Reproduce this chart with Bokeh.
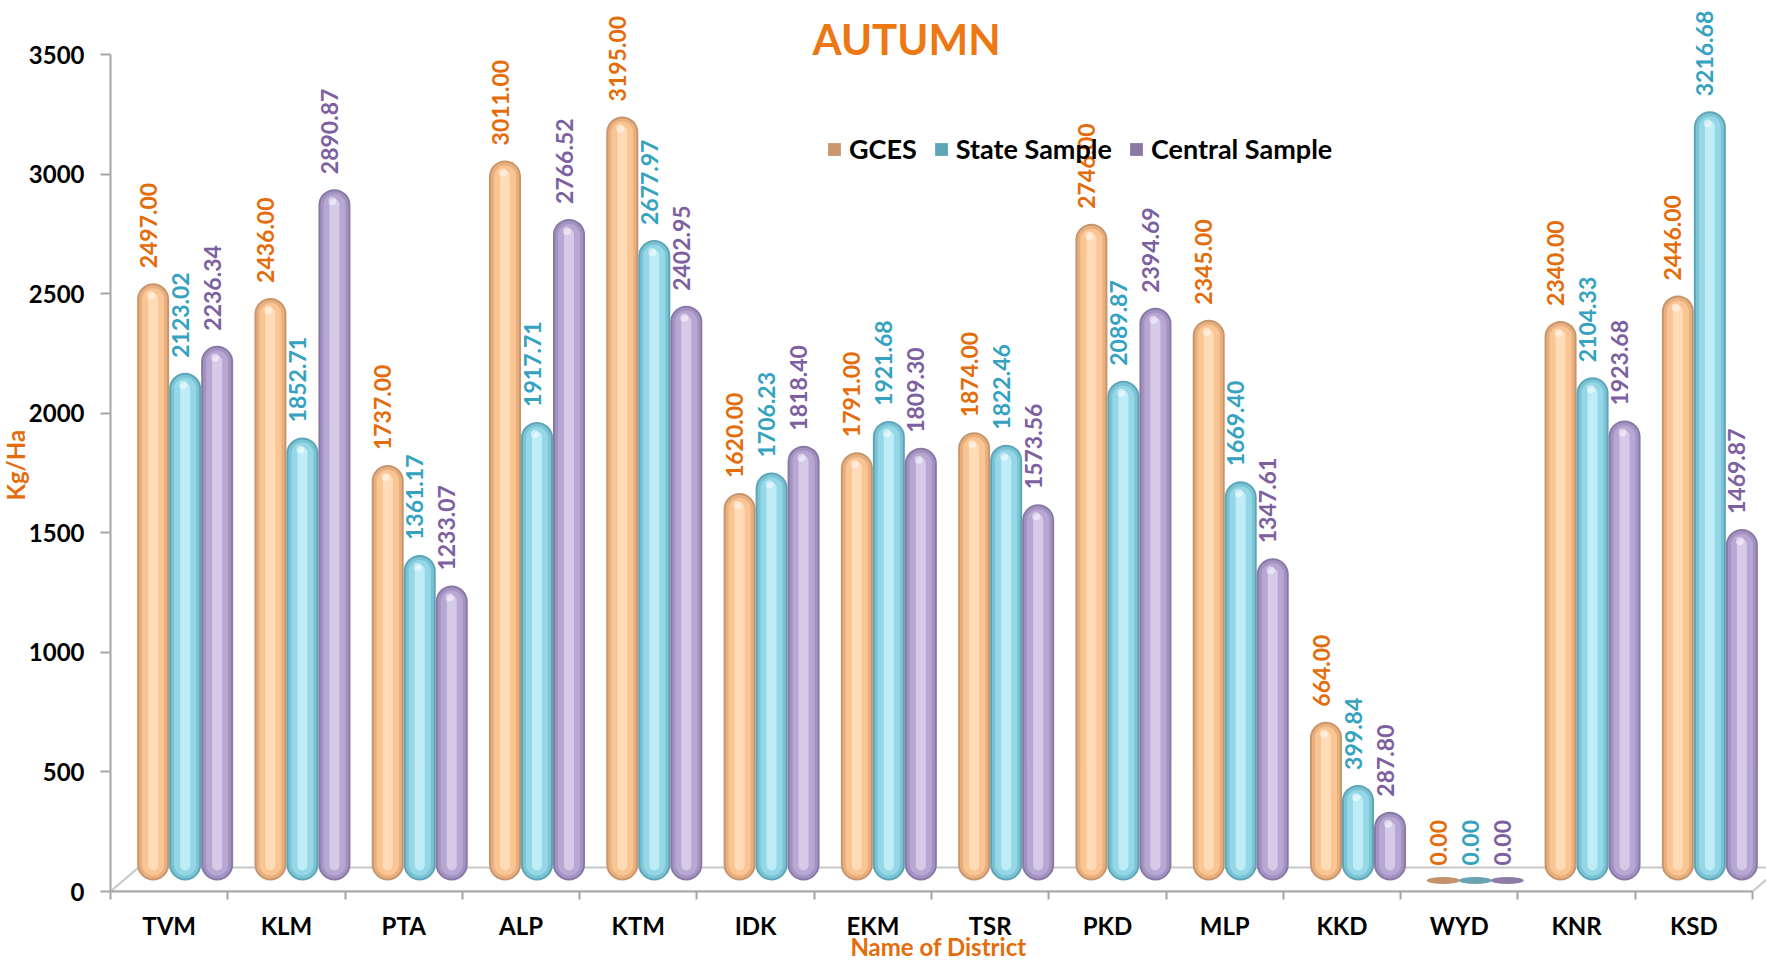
import numpy as np
from bokeh.plotting import figure
from bokeh.models import Range1d, FixedTicker, Label, Legend, LegendItem, Title
from bokeh.core.properties import value
from bokeh.embed import file_html
from bokeh.resources import INLINE

# ---------------- data ----------------
districts = ["TVM", "KLM", "PTA", "ALP", "KTM", "IDK", "EKM",
             "TSR", "PKD", "MLP", "KKD", "WYD", "KNR", "KSD"]
gces = [2497.00, 2436.00, 1737.00, 3011.00, 3195.00, 1620.00, 1791.00,
        1874.00, 2746.00, 2345.00, 664.00, 0.00, 2340.00, 2446.00]
state_sample = [2123.02, 1852.71, 1361.17, 1917.71, 2677.97, 1706.23, 1921.68,
                1822.46, 2089.87, 1669.40, 399.84, 0.00, 2104.33, 3216.68]
central_sample = [2236.34, 2890.87, 1233.07, 2766.52, 2402.95, 1818.40, 1809.30,
                  1573.56, 2394.69, 1347.61, 287.80, 0.00, 1923.68, 1469.87]
series_names = ["GCES", "State Sample", "Central Sample"]
y_tick_values = [0, 500, 1000, 1500, 2000, 2500, 3000, 3500]
title_text = "AUTUMN"
x_title = "Name of District"
y_title = "Kg/Ha"

# ---------------- geometry / style ----------------
FONT = "Lato"
FIG_W, FIG_H = 1766, 963
BORDER_L, BORDER_B = 110, 72
FRAME_W = FIG_W - BORDER_L
FRAME_H = FIG_H - BORDER_B
N = len(districts)
Y_MAX = y_tick_values[-1]
PX_X = N / 1642.0          # data units per pixel (x)
PX_Y = Y_MAX / 837.0       # data units per pixel (y)
X_END = FRAME_W * PX_X
Y_END = FRAME_H * PX_Y

GROUP_SHIFT = 16 * PX_X
DEPTH_Y = 11 * PX_Y
LABEL_GAP = 15 * PX_Y
FLOOR_DX = 28 * PX_X
FLOOR_DY = 24 * PX_Y
bar_offsets_px = [-32, 0, 32]
layers = [(32, 0), (28, 2), (22, 5), (10, 10)]   # (width px, inset px)
layer_colors = [
    ["#C8956C", "#E9B07F", "#FBC593", "#FFDBB8"],
    ["#5EA6B7", "#7CC3D4", "#94D7E7", "#C0ECF7"],
    ["#8A78A5", "#A393C0", "#B8A7D3", "#D5CAE8"],
]
base_colors = ["#C4926C", "#6AA4B3", "#8C7CA6"]
label_colors = ["#E46C0A", "#35A2BF", "#7D60A0"]
AXIS_GREY = "#A6A6A6"
ORANGE = "#E46C0A"

p = figure(width=FIG_W, height=FIG_H,
           x_range=Range1d(0, X_END), y_range=Range1d(0, Y_END),
           output_backend="svg", toolbar_location=None,
           min_border_left=BORDER_L, min_border_right=0,
           min_border_top=0, min_border_bottom=BORDER_B)
p.outline_line_color = None
p.grid.visible = False
p.background_fill_color = "white"
p.border_fill_color = "white"

# floor of the 3-D box
p.patch(x=[0, N, N + FLOOR_DX, FLOOR_DX], y=[0, 0, FLOOR_DY, FLOOR_DY],
        fill_color="white", line_color="#C8C8C8", line_width=2)

centers = np.arange(N) + 0.5
legend_items = []
series_values = [gces, state_sample, central_sample]
for k, (name, vals) in enumerate(zip(series_names, series_values)):
    v = np.array(vals, dtype=float)
    xc = centers + GROUP_SHIFT + bar_offsets_px[k] * PX_X
    bottom = np.full(N, DEPTH_Y)
    top = v + DEPTH_Y
    # flat base disc, visible only where the value is zero
    p.ellipse(x=xc, y=bottom, width=33 * PX_X, height=7 * PX_Y,
              fill_color=base_colors[k], fill_alpha=np.where(v == 0, 1.0, 0.0),
              line_color=None)
    first = None
    for (w, inset), col in zip(layers, layer_colors[k]):
        b = bottom + inset * PX_Y
        t = np.maximum(top - inset * PX_Y, b)
        r = p.vbar(x=xc, width=w * PX_X, bottom=b, top=t,
                   fill_color=col, line_color=None, border_radius=int(w // 2))
        if first is None:
            first = r
    # specular spot near the top
    p.scatter(x=xc - 2 * PX_X, y=top - 12 * PX_Y, size=8, marker="circle",
              fill_color="white", fill_alpha=np.where(v > 0, 0.5, 0.0),
              line_color=None)
    p.text(x=xc - 5 * PX_X, y=top + LABEL_GAP, text=[f"{x:.2f}" for x in v],
           angle=np.pi / 2, text_align="left", text_baseline="middle",
           text_font=value(FONT), text_font_style="bold",
           text_font_size="23px", text_color=label_colors[k])
    legend_items.append(LegendItem(label=name, renderers=[first]))

# ---------------- axes ----------------
xa = p.xaxis[0]
xa.ticker = FixedTicker(ticks=[i + 0.5 for i in range(N)],
                        minor_ticks=[float(i) for i in range(N + 1)])
overrides = {}
for i, d in enumerate(districts):
    overrides[i + 0.5] = d
xa.major_label_overrides = overrides
xa.bounds = (0, N)
xa.axis_line_color = AXIS_GREY
xa.axis_line_width = 2
xa.major_tick_line_color = None
xa.major_tick_out = 0
xa.major_tick_in = 0
xa.minor_tick_line_color = AXIS_GREY
xa.minor_tick_line_width = 2
xa.minor_tick_out = 8
xa.minor_tick_in = 0
xa.major_label_standoff = 11
xa.major_label_text_font = FONT
xa.major_label_text_font_style = "bold"
xa.major_label_text_font_size = "24px"
xa.major_label_text_color = "black"
xa.axis_label = x_title
xa.axis_label_standoff = -11
xa.axis_label_text_font = FONT
xa.axis_label_text_font_style = "bold"
xa.axis_label_text_font_size = "24px"
xa.axis_label_text_color = ORANGE

ya = p.yaxis[0]
ya.ticker = FixedTicker(ticks=y_tick_values)
ya.bounds = (0, Y_MAX)
ya.axis_line_color = AXIS_GREY
ya.axis_line_width = 2
ya.major_tick_line_color = AXIS_GREY
ya.major_tick_line_width = 2
ya.major_tick_out = 10
ya.major_tick_in = 0
ya.minor_tick_line_color = None
ya.major_label_standoff = 16
ya.major_label_text_font = FONT
ya.major_label_text_font_style = "bold"
ya.major_label_text_font_size = "24px"
ya.major_label_text_color = "black"

# vertical axis title, placed along the left side
p.add_layout(Title(text=y_title, align="left", offset=391, standoff=-8,
                   text_font=FONT, text_font_style="bold", text_font_size="24px",
                   text_color=ORANGE), "left")

# ---------------- legend & title ----------------
legend = Legend(items=legend_items, orientation="horizontal", location=(716, 726),
                glyph_width=16, glyph_height=16, label_standoff=7, spacing=16,
                padding=0, margin=0, border_line_color=None, background_fill_alpha=0,
                label_text_font=FONT, label_text_font_style="bold",
                label_text_font_size="27px", label_text_color="black",
                label_text_baseline="middle")
p.add_layout(legend)

p.add_layout(Label(x=796, y=853, x_units="screen", y_units="screen", text=title_text,
                   text_align="center", text_baseline="alphabetic",
                   text_font=FONT, text_font_style="bold", text_font_size="42px",
                   text_color="#EC7814"))

open("out.html", "w").write(file_html(p, INLINE))
